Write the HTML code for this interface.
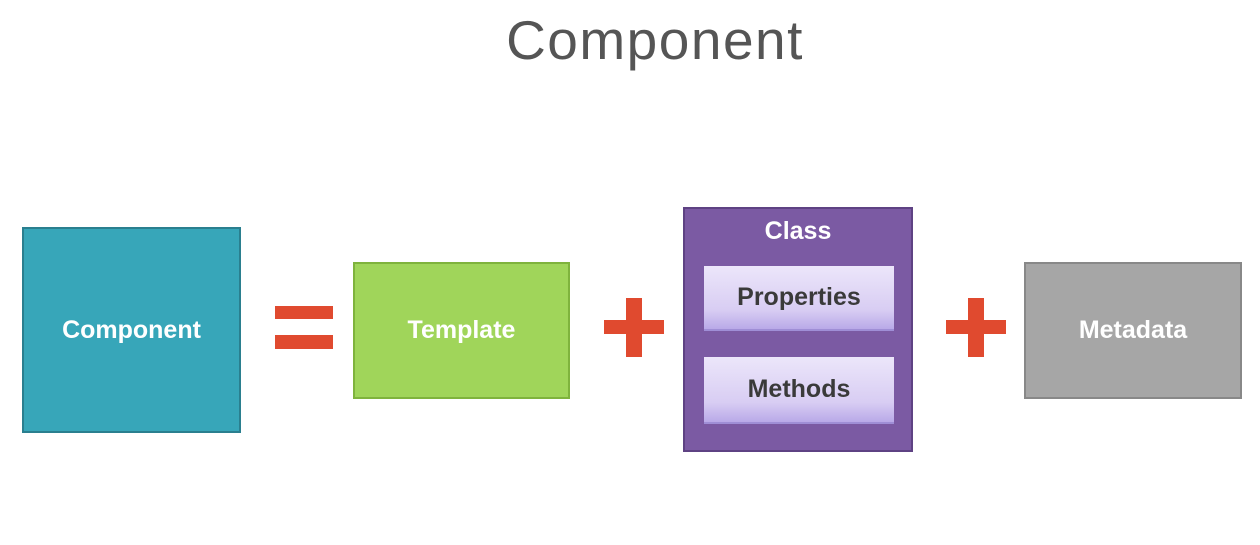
<!DOCTYPE html>
<html><head><style>
body{margin:0;width:1260px;height:545px;background:#fff;position:relative;overflow:hidden;font-family:"Liberation Sans",sans-serif}
div{position:absolute;box-sizing:border-box}
.t{display:flex;align-items:center;justify-content:center;color:#fff;font-weight:bold;font-size:25px}
.r{background:#e04a2f}
.in{background:linear-gradient(#ece6fa,#d8cdf3 70%,#b9a9e8);border-bottom:2px solid #9f8ed6;color:#3a3a3a}
</style></head><body>
<div style="left:0;top:8px;width:1310px;text-align:center;font-size:55px;color:#555;font-weight:normal;letter-spacing:1.5px">Component</div>
<div class="t" style="left:22px;top:227px;width:219px;height:206px;background:#37a6b9;border:2px solid #2a7f8f">Component</div>
<div class="r" style="left:275px;top:306px;width:58px;height:13px"></div>
<div class="r" style="left:275px;top:335px;width:58px;height:14px"></div>
<div class="t" style="left:353px;top:262px;width:217px;height:137px;background:#a0d55a;border:2px solid #7fb33d">Template</div>
<div class="r" style="left:604px;top:320px;width:60px;height:14px"></div>
<div class="r" style="left:626px;top:298px;width:16px;height:59px"></div>
<div style="left:683px;top:207px;width:230px;height:245px;background:#7b5aa3;border:2px solid #5e4283"></div>
<div class="t" style="left:683px;top:214px;width:230px;height:34px">Class</div>
<div class="t in" style="left:704px;top:266px;width:190px;height:65px">Properties</div>
<div class="t in" style="left:704px;top:357px;width:190px;height:67px">Methods</div>
<div class="r" style="left:946px;top:320px;width:60px;height:14px"></div>
<div class="r" style="left:968px;top:298px;width:16px;height:59px"></div>
<div class="t" style="left:1024px;top:262px;width:218px;height:137px;background:#a6a6a6;border:2px solid #888">Metadata</div>
</body></html>
